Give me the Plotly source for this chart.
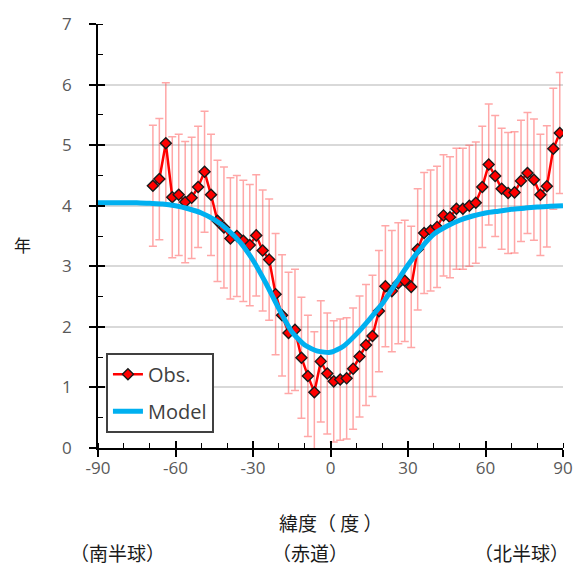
import plotly.graph_objects as go

# ---- data ----
obs_lat = [-68.75, -66.25, -63.75, -61.25, -58.75, -56.25, -53.75, -51.25,
           -48.75, -46.25, -43.75, -41.25, -38.75, -36.25, -33.75, -31.25,
           -28.75, -26.25, -23.75, -21.25, -18.75, -16.25, -13.75, -11.25,
           -8.75, -6.25, -3.75, -1.25, 1.25, 3.75, 6.25, 8.75,
           11.25, 13.75, 16.25, 18.75, 21.25, 23.75, 26.25, 28.75,
           31.25, 33.75, 36.25, 38.75, 41.25, 43.75, 46.25, 48.75,
           51.25, 53.75, 56.25, 58.75, 61.25, 63.75, 66.25, 68.75,
           71.25, 73.75, 76.25, 78.75, 81.25, 83.75, 86.25, 88.75]
obs_val = [4.33, 4.44, 5.03, 4.14, 4.18, 4.06, 4.13, 4.31,
           4.56, 4.18, 3.75, 3.64, 3.46, 3.50, 3.42, 3.35,
           3.51, 3.26, 3.11, 2.54, 2.19, 1.90, 1.95, 1.49,
           1.19, 0.92, 1.43, 1.23, 1.10, 1.13, 1.15, 1.31,
           1.51, 1.70, 1.85, 2.26, 2.67, 2.59, 2.72, 2.76,
           2.66, 3.28, 3.55, 3.59, 3.65, 3.84, 3.81, 3.95,
           3.95, 4.00, 4.05, 4.31, 4.68, 4.49, 4.28, 4.21,
           4.22, 4.41, 4.54, 4.43, 4.18, 4.32, 4.94, 5.20]
obs_err = 1.0

model_lat = [-90, -85, -80, -75, -70, -65, -60, -55, -50, -45, -40, -35,
             -30, -25, -20, -15, -10, -5, 0, 5, 10, 15, 20, 25,
             30, 35, 40, 45, 50, 55, 60, 65, 70, 75, 80, 85, 90]
model_val = [4.05, 4.05, 4.05, 4.05, 4.04, 4.03, 4.00, 3.95, 3.88, 3.77, 3.61, 3.40,
             3.10, 2.72, 2.30, 1.92, 1.70, 1.60, 1.58, 1.68, 1.88, 2.12, 2.38, 2.70,
             3.02, 3.30, 3.53, 3.66, 3.76, 3.83, 3.88, 3.91, 3.94, 3.96, 3.98, 3.99, 4.00]

x_ticks = [-90, -60, -30, 0, 30, 60, 90]
y_ticks = [0, 1, 2, 3, 4, 5, 6, 7]

W, H = 585, 566
L, R, T, B = 98, 19, 21, 118
PW, PH = W - L - R, H - T - B


def px(xp):
    return (xp - L) / PW


def py(yp):
    return (H - B - yp) / PH


fig = go.Figure()

fig.add_trace(go.Scatter(
    x=obs_lat, y=obs_val, name="Obs.", mode="lines+markers",
    line=dict(color="#ff0000", width=2.5),
    marker=dict(symbol="diamond", size=8.5, color="#ff0000",
                line=dict(color="#1a1a1a", width=1.4)),
    error_y=dict(type="constant", value=obs_err, color="rgba(255,80,80,0.5)",
                 thickness=1.5, width=4),
    legendgroup="a",
))
fig.add_trace(go.Scatter(
    x=model_lat, y=model_val, name="Model", mode="lines",
    line=dict(color="#00b0f0", width=5, shape="spline", smoothing=0.6),
    legendgroup="b",
))
# helper trace for inner half of crossing ticks
fig.add_trace(go.Scatter(x=[None], y=[None], xaxis="x2", yaxis="y2",
                         showlegend=False, hoverinfo="skip"))

tickfont = dict(family="Open Sans", size=17, color="#595959")

fig.update_layout(
    width=W, height=H,
    margin=dict(l=L, r=R, t=T, b=B),
    paper_bgcolor="white", plot_bgcolor="white",
    showlegend=True,
    xaxis=dict(range=[-90, 90], tickvals=x_ticks, ticktext=[str(v) for v in x_ticks],
               ticks="outside", ticklen=7, tickwidth=1.5, tickcolor="#000000",
               showline=True, linecolor="#000000", linewidth=1.5,
               showgrid=False, zeroline=False, tickfont=tickfont,
               ticklabelstandoff=-3,
               minor=dict(dtick=10, ticks="inside", ticklen=5, tickwidth=1.2,
                          tickcolor="#000000", showgrid=False)),
    yaxis=dict(range=[0, 7], tickvals=y_ticks, ticktext=[str(v) for v in y_ticks],
               ticks="outside", ticklen=7, tickwidth=1.5, tickcolor="#000000",
               showline=True, linecolor="#000000", linewidth=1.5,
               showgrid=True, gridcolor="#d9d9d9", gridwidth=1.5,
               zeroline=False, tickfont=tickfont, ticklabelstandoff=14,
               minor=dict(dtick=0.5, ticks="inside", ticklen=5, tickwidth=1.2,
                          tickcolor="#000000", showgrid=False)),
    xaxis2=dict(range=[-90, 90], overlaying="x", anchor="y", side="bottom",
                tickvals=x_ticks, ticks="inside", ticklen=7, tickwidth=1.5,
                tickcolor="#000000", showticklabels=False, showline=False,
                showgrid=False, zeroline=False),
    yaxis2=dict(range=[0, 7], overlaying="y", anchor="x", side="left",
                tickvals=y_ticks, ticks="inside", ticklen=7, tickwidth=1.5,
                tickcolor="#000000", showticklabels=False, showline=False,
                showgrid=False, zeroline=False),
    legend=dict(x=px(106), y=py(352), xanchor="left", yanchor="top",
                bgcolor="white", bordercolor="#404040", borderwidth=2,
                font=dict(family="Open Sans", size=20, color="#404040"),
                traceorder="grouped", tracegroupgap=8, itemwidth=30),
)

cjk = "Noto Sans CJK JP"
ann = [
    ("緯度（ 度 ）", 333, 523, 19),
    ("（南半球）", 118, 553, 19),
    ("（赤道）", 311, 553, 19),
    ("（北半球）", 524, 553, 19),
    ("年", 22, 243, 17),
]
for text, xx, yy, fs in ann:
    fig.add_annotation(text=text, x=px(xx), y=py(yy), xref="paper", yref="paper",
                       showarrow=False, xanchor="center", yanchor="middle",
                       font=dict(family=cjk, size=fs, color="#1a1a1a"))

fig.write_html("out.html", config={"displayModeBar": False},
               post_script="document.body.style.margin='0';"
                           "document.body.style.overflow='hidden';")
